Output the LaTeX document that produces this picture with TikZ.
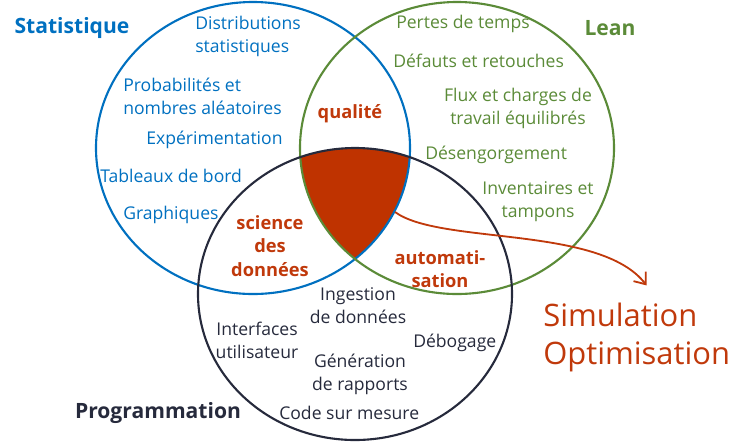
\documentclass[tikz,border=0pt]{standalone}
\usepackage{fontspec}
\setmainfont{Open Sans}
\usetikzlibrary{
  arrows.meta,
  positioning
}
\definecolor{statblue}{HTML}{0070C0}
\definecolor{leangreen}{HTML}{5B8B38}
\definecolor{progink}{HTML}{262A3C}
\definecolor{corered}{HTML}{BF3300}
\definecolor{labelred}{HTML}{C0390B}
\tikzset{
  ring/.style={
    line width=1.5pt
  },
  topic/.style={
    inner sep=0pt,
    font=\fontsize{12.5}{16.3}\selectfont,
    align=center
  },
  topicleft/.style={
    topic,
    anchor=west,
    align=left
  },
  field/.style={
    inner sep=0pt,
    font=\fontsize{15}{18}\selectfont\bfseries
  },
  overlap/.style={
    inner sep=0pt,
    text=labelred,
    font=\fontsize{13}{16.8}\selectfont\bfseries,
    align=center
  },
  outcome/.style={
    inner sep=0pt,
    text=labelred,
    anchor=west,
    align=left,
    font=\fontsize{22}{27}\selectfont
  },
  pointer/.style={
    -{Straight Barb[length=7pt,width=11pt]},
    line width=1.3pt,
    draw=labelred
  }
}

\begin{document}
\begin{tikzpicture}[x=0.025cm, y=-0.025cm]
    \useasboundingbox (0,0) rectangle (753,443);
    % the three disciplines meet here
    \begin{scope}
      \clip (253,148) ellipse [x radius=157, y radius=146];
      \clip (457,148) ellipse [x radius=157, y radius=146];
      \fill[corered] (355,294) ellipse [x radius=157, y radius=146];
    \end{scope}
    \draw[ring, statblue] (253,148) ellipse [x radius=157, y radius=146];
    \draw[ring, leangreen] (457,148) ellipse [x radius=157, y radius=146];
    \draw[ring, progink] (355,294) ellipse [x radius=157, y radius=146];

    \node[field, text=statblue] (stat) at (72,28) {Statistique};
    \node[field, text=leangreen] (lean) at (610,28) {Lean};
    \node[field, text=progink] (prog) at (158,413) {Programmation};

    \node[topicleft, text=statblue] (distrib) at (195,36) {Distributions\\statistiques};
    \node[topicleft, text=statblue] (proba) at (123,96) {Probabilités et\\nombres aléatoires};
    \node[topicleft, text=statblue] (expe) at (146,140) {Expérimentation};
    \node[topicleft, text=statblue] (tableaux) at (100,176) {Tableaux de bord};
    \node[topicleft, text=statblue] (graph) at (123,215) {Graphiques};

    \node[topicleft, text=leangreen] (pertes) at (396,24) {Pertes de temps};
    \node[topicleft, text=leangreen] (defauts) at (393,61) {Défauts et retouches};
    \node[topic, text=leangreen] (flux) at (518,108) {Flux et charges de\\travail équilibrés};
    \node[topicleft, text=leangreen] (deseng) at (425,155) {Désengorgement};
    \node[topic, text=leangreen] (invent) at (538,202) {Inventaires et\\tampons};

    \node[topic, text=progink] (ingest) at (358,306) {Ingestion\\de données};
    \node[topic, text=progink] (interf) at (257,340) {Interfaces\\utilisateur};
    \node[topicleft, text=progink] (debog) at (413,343) {Débogage};
    \node[topic, text=progink] (gener) at (360,374) {Génération\\de rapports};
    \node[topicleft, text=progink] (code) at (279,413) {Code sur mesure};

    \node[overlap] (qualite) at (350,114) {qualité};
    \node[overlap] (science) at (270,246) {science\\des\\données};
    \node[overlap] (autom) at (440,269) {automati-\\sation};

    \node[outcome] (simul) at (543,337) {Simulation\\Optimisation};

    \coordinate (core) at (395,212);
    \draw[pointer] (core) .. controls (440,245) and (600,225) .. ([xshift=7pt, yshift=12pt]simul.north);
  \end{tikzpicture}
\end{document}
